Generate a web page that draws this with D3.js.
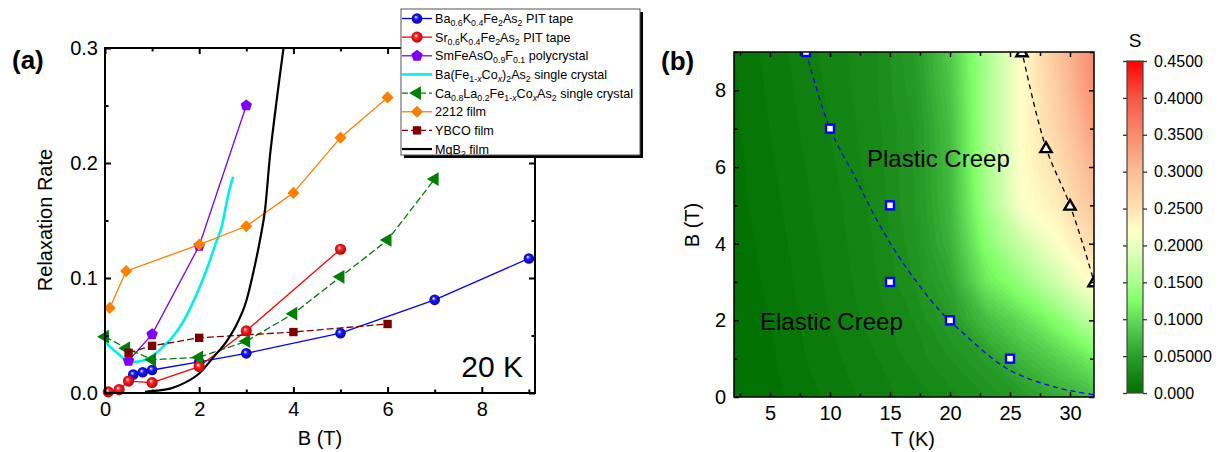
<!DOCTYPE html>
<html>
<head>
<meta charset="UTF-8">
<title>Relaxation rate and creep phase diagram</title>
<script src="https://d3js.org/d3.v7.min.js"></script>
<style>
  body { margin: 0; background: #fff; font-family: Arial, "Liberation Sans", sans-serif; }
  svg text { font-family: Arial, "Liberation Sans", sans-serif; }
</style>
</head>
<body>
<svg id="chart" width="1223" height="452"></svg>
<script>
// ---------- panel (a): relaxation rate vs field at 20 K ----------
const baKB = [0.6, 0.8, 1, 2, 3, 5, 7, 9];
const baKS = [0.016, 0.018, 0.020, 0.027, 0.0345, 0.052, 0.081, 0.117];
const srKB = [0.07, 0.3, 0.5, 1, 2, 3, 5];
const srKS = [0.001, 0.003, 0.0104, 0.009, 0.023, 0.054, 0.125];
const smB = [0.5, 1, 2, 3];
const smS = [0.028, 0.051, 0.128, 0.250];
const baCoB = [0, 0.2, 0.4, 0.6, 0.8, 1.0, 1.2, 1.4, 1.6, 1.8, 2.0, 2.2, 2.35, 2.48, 2.58, 2.65, 2.72];
const baCoS = [0.044, 0.037, 0.030, 0.027, 0.028, 0.032, 0.039, 0.047, 0.058, 0.073, 0.091, 0.112, 0.130, 0.145, 0.165, 0.178, 0.188];
const caLaB = [0, 0.45, 1, 2, 3, 4, 5, 6, 7];
const caLaS = [0.049, 0.039, 0.029, 0.031, 0.045, 0.069, 0.101, 0.133, 0.186];
const bscB = [0.1, 0.45, 2, 3, 4, 5, 6];
const bscS = [0.074, 0.106, 0.129, 0.145, 0.174, 0.222, 0.257];
const ybcoB = [0.5, 1, 2, 4, 6];
const ybcoS = [0.035, 0.041, 0.048, 0.053, 0.060];
const mgB = [0.85, 1.1, 1.4, 1.7, 2.0, 2.3, 2.6, 2.8, 3.0, 3.15, 3.3, 3.4, 3.5, 3.6, 3.7, 3.8];
const mgS = [0.001, 0.002, 0.004, 0.009, 0.017, 0.031, 0.046, 0.060, 0.080, 0.105, 0.135, 0.160, 0.205, 0.240, 0.272, 0.303];

const legendLabels = [
  "Ba_{0.6}K_{0.4}Fe_{2}As_{2} PIT tape",
  "Sr_{0.6}K_{0.4}Fe_{2}As_{2} PIT tape",
  "SmFeAsO_{0.9}F_{0.1} polycrystal",
  "Ba(Fe_{1-x}Co_{x})_{2}As_{2} single crystal",
  "Ca_{0.8}La_{0.2}Fe_{1-x}Co_{x}As_{2} single crystal",
  "2212 film",
  "YBCO film",
  "MgB_{2} film"
];

const aXTicks = [0, 2, 4, 6, 8];
const aXMinor = [1, 3, 5, 7, 9];
const aYTicks = [0.0, 0.1, 0.2, 0.3];
const aYMinor = [0.05, 0.15, 0.25];

// ---------- panel (b): creep rate S over T and B ----------
const gridT = [2, 5, 8, 11, 14, 17, 20, 23, 26, 29, 32];
const gridB = [0, 1, 2, 3, 4, 5, 6, 7, 8, 9];
// one row per field value (B = 0 first), one column per temperature
const gridS = [
  [0.000, 0.003, 0.008, 0.013, 0.018, 0.022, 0.028, 0.035, 0.045, 0.060, 0.075],
  [0.001, 0.004, 0.010, 0.015, 0.020, 0.027, 0.035, 0.047, 0.070, 0.090, 0.115],
  [0.001, 0.005, 0.011, 0.017, 0.023, 0.030, 0.045, 0.075, 0.100, 0.130, 0.170],
  [0.002, 0.006, 0.012, 0.018, 0.025, 0.035, 0.055, 0.110, 0.140, 0.180, 0.225],
  [0.002, 0.007, 0.013, 0.019, 0.026, 0.038, 0.065, 0.130, 0.175, 0.215, 0.260],
  [0.003, 0.008, 0.014, 0.020, 0.027, 0.040, 0.070, 0.145, 0.215, 0.240, 0.290],
  [0.003, 0.009, 0.015, 0.021, 0.028, 0.040, 0.072, 0.150, 0.220, 0.255, 0.310],
  [0.004, 0.010, 0.016, 0.022, 0.029, 0.040, 0.075, 0.150, 0.220, 0.270, 0.330],
  [0.004, 0.011, 0.017, 0.023, 0.030, 0.043, 0.080, 0.150, 0.220, 0.280, 0.345],
  [0.005, 0.012, 0.018, 0.024, 0.030, 0.045, 0.085, 0.150, 0.220, 0.290, 0.350]
];

const elasticT = [8, 10, 15, 15, 20, 25];
const elasticB = [9, 7, 5, 3, 2, 1];
const elasticFitT = [8, 10, 12.2, 13.9, 16.1, 19.1, 20.8, 24.7, 28.6, 32];
const elasticFitB = [9, 7.0, 5.67, 4.62, 3.49, 2.27, 1.75, 0.75, 0.27, 0.06];
const plasticT = [26, 28, 30, 32];
const plasticB = [9, 6.5, 5, 3];
const plasticFitT = [25.8, 26, 28, 30, 32, 32.1];
const plasticFitB = [9.3, 9, 6.5, 5, 3, 2.85];

const bXTicks = [5, 10, 15, 20, 25, 30];
const bXMinor = [2.5, 7.5, 12.5, 17.5, 22.5, 27.5];
const bYTicks = [0, 2, 4, 6, 8];
const bYMinor = [1, 3, 5, 7, 9];

const sStops = [0, 0.05, 0.10, 0.125, 0.15, 0.20, 0.22, 0.25, 0.30, 0.35, 0.40, 0.45];
const cStops = ["#007000", "#2a9e2a", "#62dc58", "#80ff66", "#a8ff8e", "#eaffbe", "#ffffc8",
                "#ffe3b2", "#fbbc96", "#f88c6c", "#f65646", "#ff0000"];
const sTicks = [0, 0.05, 0.10, 0.15, 0.20, 0.25, 0.30, 0.35, 0.40, 0.45];
const sTickLabels = ["0.000", "0.05000", "0.1000", "0.1500", "0.2000", "0.2500", "0.3000", "0.3500", "0.4000", "0.4500"];

const svg = d3.select("#chart");
const defs = svg.append("defs");

// text with _{...} subscripts, lone x inside a subscript in italics
function richText(sel, str, subSize) {
  let shifted = false;
  str.split(/(_\{[^}]*\})/).filter(s => s.length).forEach(p => {
    if (p.startsWith("_{")) {
      p.slice(2, -1).split(/(x)/).filter(s => s.length).forEach(q => {
        const t = sel.append("tspan").text(q).attr("font-size", subSize);
        if (q === "x") t.attr("font-style", "italic");
        if (!shifted) { t.attr("dy", 3); shifted = true; }
      });
    } else {
      const t = sel.append("tspan").text(p);
      if (shifted) { t.attr("dy", -3); shifted = false; }
    }
  });
}

function sphereFill(id, color, dark) {
  const g = defs.append("radialGradient").attr("id", id)
    .attr("cx", "50%").attr("cy", "50%").attr("r", "55%").attr("fx", "38%").attr("fy", "35%");
  g.append("stop").attr("offset", "0%").attr("stop-color", "#ffffff");
  g.append("stop").attr("offset", "35%").attr("stop-color", color);
  g.append("stop").attr("offset", "100%").attr("stop-color", dark);
  return `url(#${id})`;
}

function pentagon(r) {
  const pts = d3.range(5).map(k => {
    const a = -Math.PI / 2 + k * 2 * Math.PI / 5;
    return [r * Math.cos(a), r * Math.sin(a)];
  });
  return "M" + pts.map(p => p.join(",")).join("L") + "Z";
}

// marker drawers, each appends to a group at (0,0)
const markers = {
  sphereBlue: g => g.append("circle").attr("r", 5.3).attr("fill", sphereFill("sb", "#1a1aff", "#0000a0")),
  sphereRed: g => g.append("circle").attr("r", 5.6).attr("fill", sphereFill("sr", "#ff2020", "#b00000")),
  pentagon: g => g.append("path").attr("d", pentagon(6)).attr("fill", "#7f00ff"),
  triLeft: g => g.append("path").attr("d", d3.symbol(d3.symbolTriangle, 80)()).attr("transform", "rotate(-90)").attr("fill", "#007f00"),
  diamond: g => g.append("path").attr("d", d3.symbol(d3.symbolSquare, 74)()).attr("transform", "rotate(45)").attr("fill", "#ff8000"),
  square: g => g.append("path").attr("d", d3.symbol(d3.symbolSquare, 70)()).attr("fill", "#800000"),
  none: g => g
};

// only names the library inputs; every value comes from the arrays above
const series = [
  { B: baKB, S: baKS, color: "#0000ff", marker: "sphereBlue", width: 1.3 },
  { B: srKB, S: srKS, color: "#ff0000", marker: "sphereRed", width: 1.3 },
  { B: smB, S: smS, color: "#7f00ff", marker: "pentagon", width: 1.3 },
  { B: baCoB, S: baCoS, color: "#00f0f0", marker: "none", width: 2.6, curve: d3.curveMonotoneX },
  { B: caLaB, S: caLaS, color: "#007f00", marker: "triLeft", width: 1.3, dash: "7,3" },
  { B: bscB, S: bscS, color: "#ff8000", marker: "diamond", width: 1.3 },
  { B: ybcoB, S: ybcoS, color: "#800000", marker: "square", width: 1.3, dash: "7,3" },
  { B: mgB, S: mgS, color: "#000000", marker: "none", width: 2.2, curve: d3.curveMonotoneX }
];

// inward ticks on all four sides, labels on bottom and left
function frame(g, x, y, o) {
  const [x0, x1] = x.range(), [y0, y1] = y.range();
  const styleTicks = sel => {
    sel.select(".domain").remove();
    sel.selectAll("line").attr("stroke", "#000").attr("stroke-width", o.tickW);
    sel.selectAll("text").attr("font-size", o.font).attr("fill", "#000");
  };
  const add = (axis, tr) => g.append("g").attr("transform", tr).call(axis).call(styleTicks);
  add(d3.axisBottom(x).tickValues(o.xTicks).tickSize(-o.major).tickPadding(o.xPad).tickFormat(o.xFmt), `translate(0,${y0})`);
  add(d3.axisBottom(x).tickValues(o.xMinor).tickSize(-o.minor).tickFormat(""), `translate(0,${y0})`);
  add(d3.axisTop(x).tickValues(o.xTicks).tickSize(-o.major).tickFormat(""), `translate(0,${y1})`);
  add(d3.axisTop(x).tickValues(o.xMinor).tickSize(-o.minor).tickFormat(""), `translate(0,${y1})`);
  add(d3.axisLeft(y).tickValues(o.yTicks).tickSize(-o.major).tickPadding(o.yPad).tickFormat(o.yFmt), `translate(${x0},0)`);
  add(d3.axisLeft(y).tickValues(o.yMinor).tickSize(-o.minor).tickFormat(""), `translate(${x0},0)`);
  add(d3.axisRight(y).tickValues(o.yTicks).tickSize(-o.major).tickFormat(""), `translate(${x1},0)`);
  add(d3.axisRight(y).tickValues(o.yMinor).tickSize(-o.minor).tickFormat(""), `translate(${x1},0)`);
  g.append("rect").attr("x", x0).attr("y", y1).attr("width", x1 - x0).attr("height", y0 - y1)
    .attr("fill", "none").attr("stroke", "#000").attr("stroke-width", o.frameW);
}

// ================= panel (a) =================
const xa = d3.scaleLinear().domain([0, 9.13]).range([105, 535]);
const ya = d3.scaleLinear().domain([0, 0.3]).range([393, 48]);
const ga = svg.append("g");

defs.append("clipPath").attr("id", "clipA").append("rect")
  .attr("x", 105).attr("y", 48).attr("width", 430).attr("height", 345);

const lineG = ga.append("g").attr("clip-path", "url(#clipA)");
series.forEach(s => {
  const line = d3.line().x(i => xa(s.B[i])).y(i => ya(s.S[i])).curve(s.curve || d3.curveLinear);
  lineG.append("path").attr("d", line(d3.range(s.B.length)))
    .attr("fill", "none").attr("stroke", s.color).attr("stroke-width", s.width)
    .attr("stroke-dasharray", s.dash || null).attr("stroke-linejoin", "round");
});
series.filter(s => s.marker !== "none").forEach(s => {
  s.B.forEach((b, i) => {
    markers[s.marker](ga.append("g").attr("transform", `translate(${xa(b)},${ya(s.S[i])})`));
  });
});

frame(ga, xa, ya, {
  xTicks: aXTicks, xMinor: aXMinor, yTicks: aYTicks, yMinor: aYMinor,
  xFmt: d3.format("d"), yFmt: d3.format(".1f"), major: 6, minor: 3.5,
  xPad: 9, yPad: 7, font: 20, tickW: 2, frameW: 2
});

ga.append("text").attr("x", 523).attr("y", 377).attr("text-anchor", "end")
  .attr("font-size", 30).text("20 K");
ga.append("text").attr("transform", "translate(52,220) rotate(-90)").attr("text-anchor", "middle")
  .attr("font-size", 20).text("Relaxation Rate");
ga.append("text").attr("x", 320).attr("y", 445).attr("text-anchor", "middle")
  .attr("font-size", 20).text("B (T)");
ga.append("text").attr("x", 12).attr("y", 69).attr("font-size", 26).attr("font-weight", "bold").text("(a)");

// legend box with drop shadow
const lg = ga.append("g");
lg.append("rect").attr("x", 404).attr("y", 12).attr("width", 239).attr("height", 146).attr("fill", "#000");
lg.append("rect").attr("x", 401).attr("y", 9).attr("width", 239).attr("height", 146)
  .attr("fill", "#fff").attr("stroke", "#555").attr("stroke-width", 1);
legendLabels.forEach((lab, i) => {
  const s = series[i];
  const yy = 18.5 + i * 18.65;
  lg.append("line").attr("x1", 402).attr("x2", 432).attr("y1", yy).attr("y2", yy)
    .attr("stroke", s.color).attr("stroke-width", s.marker === "none" ? s.width : 1.3)
    .attr("stroke-dasharray", s.dash ? "6,3" : null);
  markers[s.marker](lg.append("g").attr("transform", `translate(417,${yy})`));
  const t = lg.append("text").attr("x", 435).attr("y", yy + 4.5).attr("font-size", 12.6);
  richText(t, lab, 8.8);
});

// ================= panel (b) =================
const xb = d3.scaleLinear().domain([2, 32]).range([734, 1094]);
const yb = d3.scaleLinear().domain([0, 9]).range([397, 52]);
const gb = svg.append("g");
const color = d3.scaleLinear().domain(sStops).range(cStops).interpolate(d3.interpolateRgb).clamp(true);

defs.append("clipPath").attr("id", "clipB").append("rect")
  .attr("x", 734).attr("y", 52).attr("width", 360).attr("height", 345);

const nT = gridT.length, nB = gridB.length;
const dT = gridT[1] - gridT[0], dB = gridB[1] - gridB[0];
const values = [];
gridS.forEach(row => row.forEach(v => values.push(v)));
const step = 0.005;
const contours = d3.contours().size([nT, nB]).thresholds(d3.range(0, 0.45 + 1e-9, step))(values);
const proj = d3.geoTransform({
  point(cx, cy) { this.stream.point(xb(gridT[0] + (cx - 0.5) * dT), yb(gridB[0] + (cy - 0.5) * dB)); }
});
const field = gb.append("g").attr("clip-path", "url(#clipB)");
field.selectAll("path").data(contours).join("path")
  .attr("d", d3.geoPath(proj))
  .attr("fill", d => color(d.value + step / 2))
  .attr("stroke", d => color(d.value + step / 2)).attr("stroke-width", 0.6);

const over = gb.append("g").attr("clip-path", "url(#clipB)");
const fitLine = (T, B) => d3.line().x(i => xb(T[i])).y(i => yb(B[i])).curve(d3.curveCatmullRom)(d3.range(T.length));
over.append("path").attr("d", fitLine(elasticFitT, elasticFitB)).attr("fill", "none")
  .attr("stroke", "#0000ff").attr("stroke-width", 1.3).attr("stroke-dasharray", "5,4");
over.append("path").attr("d", fitLine(plasticFitT, plasticFitB)).attr("fill", "none")
  .attr("stroke", "#000").attr("stroke-width", 1.3).attr("stroke-dasharray", "5,4");
elasticT.forEach((t, i) => {
  over.append("rect").attr("x", xb(t) - 4).attr("y", yb(elasticB[i]) - 4).attr("width", 8).attr("height", 8)
    .attr("fill", "#fff").attr("stroke", "#0000ff").attr("stroke-width", 2.4);
});
plasticT.forEach((t, i) => {
  over.append("path").attr("d", d3.symbol(d3.symbolTriangle, 55)())
    .attr("transform", `translate(${xb(t)},${yb(plasticB[i]) + 1})`)
    .attr("fill", "#fff").attr("stroke", "#000").attr("stroke-width", 2.4).attr("stroke-linejoin", "miter");
});

gb.append("text").attr("x", 867).attr("y", 167).attr("font-size", 24).text("Plastic Creep");
gb.append("text").attr("x", 760).attr("y", 330).attr("font-size", 24).text("Elastic Creep");

frame(gb, xb, yb, {
  xTicks: bXTicks, xMinor: bXMinor, yTicks: bYTicks, yMinor: bYMinor,
  xFmt: d3.format("d"), yFmt: d3.format("d"), major: 5, minor: 4,
  xPad: 9, yPad: 8, font: 20, tickW: 1.5, frameW: 1.5
});

gb.append("text").attr("x", 913).attr("y", 446).attr("text-anchor", "middle").attr("font-size", 20).text("T (K)");
gb.append("text").attr("transform", "translate(699,225) rotate(-90)").attr("text-anchor", "middle")
  .attr("font-size", 20).text("B (T)");
gb.append("text").attr("x", 661).attr("y", 70).attr("font-size", 26).attr("font-weight", "bold").text("(b)");

// colour bar
const cs = d3.scaleLinear().domain([0, 0.45]).range([393, 61]);
const grad = defs.append("linearGradient").attr("id", "sGrad")
  .attr("x1", "0%").attr("x2", "0%").attr("y1", "100%").attr("y2", "0%");
sStops.forEach((v, i) => grad.append("stop").attr("offset", (v / 0.45 * 100) + "%").attr("stop-color", cStops[i]));
gb.append("rect").attr("x", 1127).attr("y", 61).attr("width", 16).attr("height", 332)
  .attr("fill", "url(#sGrad)").attr("stroke", "#444").attr("stroke-width", 1.2);
const cbAxis = gb.append("g").attr("transform", "translate(1143,0)")
  .call(d3.axisRight(cs).tickValues(sTicks).tickSize(4).tickPadding(7).tickFormat((d, i) => sTickLabels[i]));
cbAxis.select(".domain").remove();
cbAxis.selectAll("line").attr("stroke", "#333").attr("stroke-width", 1.3);
cbAxis.selectAll("text").attr("font-size", 16).attr("fill", "#000");
const cbLeft = gb.append("g").attr("transform", "translate(1127,0)")
  .call(d3.axisLeft(cs).tickValues(sTicks).tickSize(4).tickFormat(""));
cbLeft.select(".domain").remove();
cbLeft.selectAll("line").attr("stroke", "#333").attr("stroke-width", 1.3);
gb.append("text").attr("x", 1135).attr("y", 47).attr("text-anchor", "middle").attr("font-size", 19).text("S");
</script>
</body>
</html>
